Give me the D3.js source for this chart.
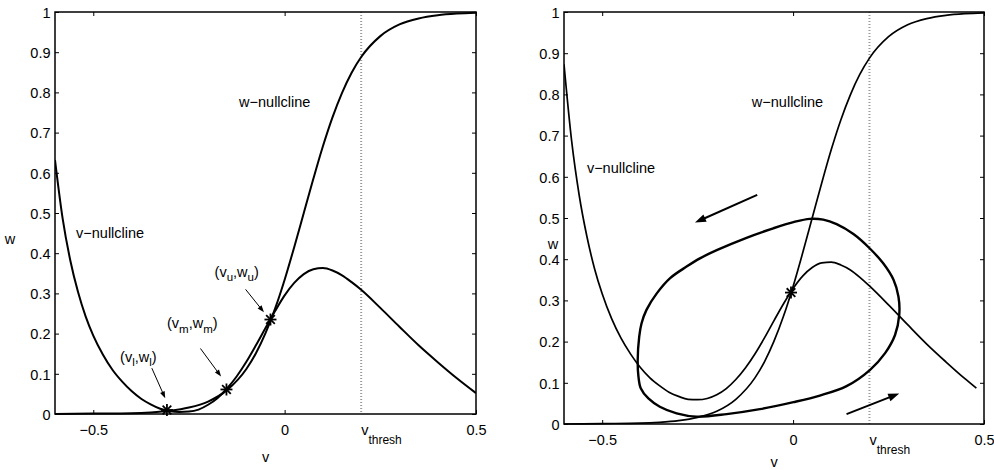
<!DOCTYPE html>
<html><head><meta charset="utf-8">
<script src="https://cdn.jsdelivr.net/npm/d3@7"></script>
<style>
body{margin:0;background:#fff}
text{font-family:"Liberation Sans",Arial,Helvetica,sans-serif;fill:#000}
</style>
</head><body>
<svg id="c" width="994" height="470"></svg>
<script>
// ---------- data ----------
const xTicks = [-0.5, 0, 0.5];
const xTickLabels = ["\u22120.5", "0", "0.5"];
const yTicks = [0, 0.1, 0.2, 0.3, 0.4, 0.5, 0.6, 0.7, 0.8, 0.9, 1];
const yTickLabels = ["0", "0.1", "0.2", "0.3", "0.4", "0.5", "0.6", "0.7", "0.8", "0.9", "1"];
const vThresh = 0.2;

// v-nullcline, left panel
const vNullLeftV = [-0.60,-0.58,-0.56,-0.54,-0.52,-0.50,-0.475,-0.45,-0.425,-0.40,-0.375,-0.35,-0.325,-0.30,-0.275,-0.25,-0.225,-0.20,-0.175,-0.15,-0.125,-0.10,-0.075,-0.05,-0.025,0.00,0.025,0.05,0.075,0.10,0.125,0.15,0.175,0.20,0.25,0.30,0.35,0.40,0.45,0.50];
const vNullLeftW = [0.632,0.486,0.382,0.304,0.243,0.195,0.148,0.110,0.081,0.057,0.038,0.024,0.013,0.007,0.005,0.006,0.011,0.023,0.040,0.064,0.094,0.130,0.171,0.214,0.256,0.295,0.326,0.348,0.360,0.363,0.357,0.345,0.328,0.309,0.264,0.217,0.171,0.129,0.089,0.052];

// v-nullcline, right panel
const vNullRightV = [-0.60,-0.58,-0.56,-0.54,-0.52,-0.50,-0.475,-0.45,-0.425,-0.40,-0.375,-0.35,-0.325,-0.30,-0.275,-0.25,-0.225,-0.20,-0.175,-0.15,-0.125,-0.10,-0.075,-0.05,-0.025,0.00,0.025,0.05,0.075,0.10,0.125,0.15,0.175,0.20,0.25,0.30,0.35,0.40,0.45,0.48];
const vNullRightW = [0.873,0.687,0.554,0.455,0.377,0.316,0.255,0.207,0.169,0.137,0.112,0.093,0.077,0.067,0.060,0.059,0.062,0.071,0.086,0.108,0.136,0.170,0.209,0.251,0.292,0.329,0.359,0.380,0.391,0.393,0.386,0.374,0.356,0.335,0.289,0.241,0.194,0.151,0.110,0.087];

// w-nullcline (both panels)
const wNullV = [-0.60,-0.50,-0.40,-0.35,-0.30,-0.25,-0.20,-0.15,-0.10,-0.075,-0.05,-0.025,0.00,0.025,0.05,0.075,0.10,0.125,0.15,0.175,0.20,0.25,0.30,0.35,0.40,0.45,0.50];
const wNullW = [0.000,0.001,0.002,0.004,0.008,0.016,0.031,0.060,0.112,0.151,0.201,0.262,0.334,0.415,0.500,0.585,0.666,0.738,0.799,0.849,0.888,0.940,0.969,0.984,0.992,0.996,0.998];

// limit cycle, right panel
const cycleV = [0.044,0.001,-0.052,-0.122,-0.200,-0.244,-0.279,-0.322,-0.357,-0.384,-0.397,-0.403,-0.407,-0.405,-0.399,-0.379,-0.349,-0.305,-0.253,-0.174,-0.087,0.001,0.070,0.140,0.201,0.241,0.267,0.278,0.276,0.263,0.236,0.201,0.158,0.114,0.079];
const cycleW = [0.498,0.490,0.475,0.452,0.422,0.402,0.382,0.354,0.317,0.277,0.244,0.212,0.155,0.115,0.087,0.062,0.042,0.026,0.018,0.024,0.036,0.053,0.069,0.092,0.131,0.172,0.216,0.265,0.309,0.350,0.390,0.426,0.461,0.485,0.496];

// fixed points
const leftFixedV = [-0.3075, -0.152, -0.037];
const leftFixedW = [0.010, 0.061, 0.235];
const leftFixedNames = [["v","l","w","l"], ["v","m","w","m"], ["v","u","w","u"]];
const leftFixedLabelV = [-0.430, -0.3075, -0.183];
const leftFixedLabelW = [0.130, 0.213, 0.342];
const leftArrowFrom = [[-0.347, 0.114], [-0.220, 0.163], [-0.102, 0.310]];
const leftArrowTo   = [[-0.312, 0.039], [-0.166, 0.093], [-0.054, 0.253]];

const rightFixedV = [-0.0055];
const rightFixedW = [0.319];
const rightArrowFrom = [[-0.094, 0.556], [0.140, 0.024]];
const rightArrowTo   = [[-0.257, 0.489], [0.278, 0.074]];

// ---------- drawing ----------
const svg = d3.select("#c");
const FS = 14.5;

function star(g, cx, cy, r, sw) {
  const d = r * 0.72;
  const segs = [[cx - r, cy, cx + r, cy], [cx, cy - r, cx, cy + r], [cx - d, cy - d, cx + d, cy + d], [cx - d, cy + d, cx + d, cy - d]];
  segs.forEach(s => g.append("line").attr("x1", s[0]).attr("y1", s[1]).attr("x2", s[2]).attr("y2", s[3])
    .attr("stroke", "#000").attr("stroke-width", sw));
}

function arrow(g, x1, y1, x2, y2, sw, L, W) {
  const dx = x2 - x1, dy = y2 - y1, len = Math.hypot(dx, dy);
  const ux = dx / len, uy = dy / len, px = -uy, py = ux;
  const bx = x2 - ux * L, by = y2 - uy * L;
  g.append("line").attr("x1", x1).attr("y1", y1).attr("x2", bx + ux * 1).attr("y2", by + uy * 1)
    .attr("stroke", "#000").attr("stroke-width", sw);
  g.append("path").attr("d", `M${x2},${y2}L${bx + px * W / 2},${by + py * W / 2}L${bx - px * W / 2},${by - py * W / 2}Z`)
    .attr("fill", "#000");
}

function panel(p) {
  const g = svg.append("g");
  const x = d3.scaleLinear().domain([-0.6, 0.5]).range([p.x0, p.x1]);
  const y = d3.scaleLinear().domain([0, 1]).range([p.y1, p.y0]);
  const clipId = "clip" + p.id;
  svg.append("clipPath").attr("id", clipId).append("rect")
    .attr("x", p.x0).attr("y", p.y0 - 1).attr("width", p.x1 - p.x0).attr("height", p.y1 - p.y0 + 2);

  // threshold line
  g.append("line").attr("x1", x(vThresh)).attr("x2", x(vThresh)).attr("y1", p.y0).attr("y2", p.y1)
    .attr("stroke", "#999").attr("stroke-width", 2).attr("stroke-dasharray", "1,2");

  const plot = g.append("g").attr("clip-path", `url(#${clipId})`);
  const line = d3.line().x(d => x(d[0])).y(d => y(d[1])).curve(d3.curveMonotoneX);

  plot.append("path").datum(wNullV.map((v, i) => [v, wNullW[i]])).attr("d", line)
    .attr("fill", "none").attr("stroke", "#000").attr("stroke-width", p.nullW);
  plot.append("path").datum(p.vNullV.map((v, i) => [v, p.vNullW[i]])).attr("d", line)
    .attr("fill", "none").attr("stroke", "#000").attr("stroke-width", p.nullW);

  if (p.cycle) {
    const cl = d3.line().x(d => x(d[0])).y(d => y(d[1])).curve(d3.curveCatmullRomClosed.alpha(0.5));
    plot.append("path").datum(cycleV.map((v, i) => [v, cycleW[i]])).attr("d", cl)
      .attr("fill", "none").attr("stroke", "#000").attr("stroke-width", 2.4);
  }

  p.fixedV.forEach((v, i) => star(g, x(v), y(p.fixedW[i]), 6, 1.8));
  p.arrowFrom.forEach((a, i) => arrow(g, x(a[0]), y(a[1]), x(p.arrowTo[i][0]), y(p.arrowTo[i][1]), p.arrowSW, p.headL, p.headW));

  // axes
  const ax = [
    d3.axisBottom(x).tickValues(xTicks).tickFormat((d, i) => xTickLabels[i]).tickSize(-4).tickPadding(0),
    d3.axisTop(x).tickValues(xTicks).tickFormat("").tickSize(-4),
    d3.axisLeft(y).tickValues(yTicks).tickFormat((d, i) => yTickLabels[i]).tickSize(-4).tickPadding(4.5),
    d3.axisRight(y).tickValues(yTicks).tickFormat("").tickSize(-4)
  ];
  const tr = [`translate(0,${p.y1})`, `translate(0,${p.y0})`, `translate(${p.x0},0)`, `translate(${p.x1},0)`];
  ax.forEach((a, i) => {
    const ag = g.append("g").attr("transform", tr[i]).call(a.tickSizeOuter(0));
    ag.select(".domain").remove();
    ag.selectAll("line").attr("stroke", "#000").attr("stroke-width", 1);
    ag.selectAll("text").attr("font-size", FS).attr("font-family", null).attr("fill", "#000");
    if (i === 0) ag.selectAll("text").attr("y", 21).attr("dy", null);
    if (i === 2) ag.selectAll("text").attr("dy", "0.36em");
  });
  g.append("rect").attr("x", p.x0).attr("y", p.y0).attr("width", p.x1 - p.x0).attr("height", p.y1 - p.y0)
    .attr("fill", "none").attr("stroke", "#000").attr("stroke-width", 1.5);

  // labels
  g.append("text").attr("x", (p.x0 + p.x1) / 2).attr("y", p.xLabelY).attr("text-anchor", "middle")
    .attr("font-size", FS).text("v");
  g.append("text").attr("x", p.wLabelX).attr("y", p.wLabelY).attr("text-anchor", "middle")
    .attr("font-size", FS).text("w");
  const vt = g.append("text").attr("x", x(vThresh)).attr("y", p.y1 + 21).attr("font-size", FS);
  vt.append("tspan").text("v");
  vt.append("tspan").attr("dy", 9).attr("font-size", 12).text("thresh");

  g.append("text").attr("x", x(p.wNullLabel[0])).attr("y", y(p.wNullLabel[1])).attr("font-size", FS).text("w\u2212nullcline");
  g.append("text").attr("x", x(p.vNullLabel[0])).attr("y", y(p.vNullLabel[1])).attr("font-size", FS).text("v\u2212nullcline");

  if (p.fixedLabels) {
    leftFixedNames.forEach((n, i) => {
      const t = g.append("text").attr("x", x(leftFixedLabelV[i])).attr("y", y(leftFixedLabelW[i])).attr("font-size", 14.5).attr("fill", "#222");
      t.append("tspan").text("(" + n[0]);
      t.append("tspan").attr("dy", 4.5).attr("font-size", 11.5).text(n[1]);
      t.append("tspan").attr("dy", -4.5).text("," + n[2]);
      t.append("tspan").attr("dy", 4.5).attr("font-size", 11.5).text(n[3]);
      t.append("tspan").attr("dy", -4.5).text(")");
    });
  }
}

panel({id: "L", x0: 55, x1: 476, y0: 12, y1: 414, vNullV: vNullLeftV, vNullW: vNullLeftW, nullW: 2,
  cycle: false, fixedV: leftFixedV, fixedW: leftFixedW, arrowFrom: leftArrowFrom, arrowTo: leftArrowTo,
  arrowSW: 1, headL: 7, headW: 5, xLabelY: 462, wLabelX: 10, wLabelY: 244,
  wNullLabel: [-0.119, 0.764], vNullLabel: [-0.545, 0.438], fixedLabels: true});

panel({id: "R", x0: 564, x1: 984, y0: 12, y1: 424, vNullV: vNullRightV, vNullW: vNullRightW, nullW: 1.7,
  cycle: true, fixedV: rightFixedV, fixedW: rightFixedW, arrowFrom: rightArrowFrom, arrowTo: rightArrowTo,
  arrowSW: 2, headL: 11, headW: 8, xLabelY: 467, wLabelX: 553, wLabelY: 249,
  wNullLabel: [-0.108, 0.769], vNullLabel: [-0.540, 0.610], fixedLabels: false});
</script>
</body></html>
